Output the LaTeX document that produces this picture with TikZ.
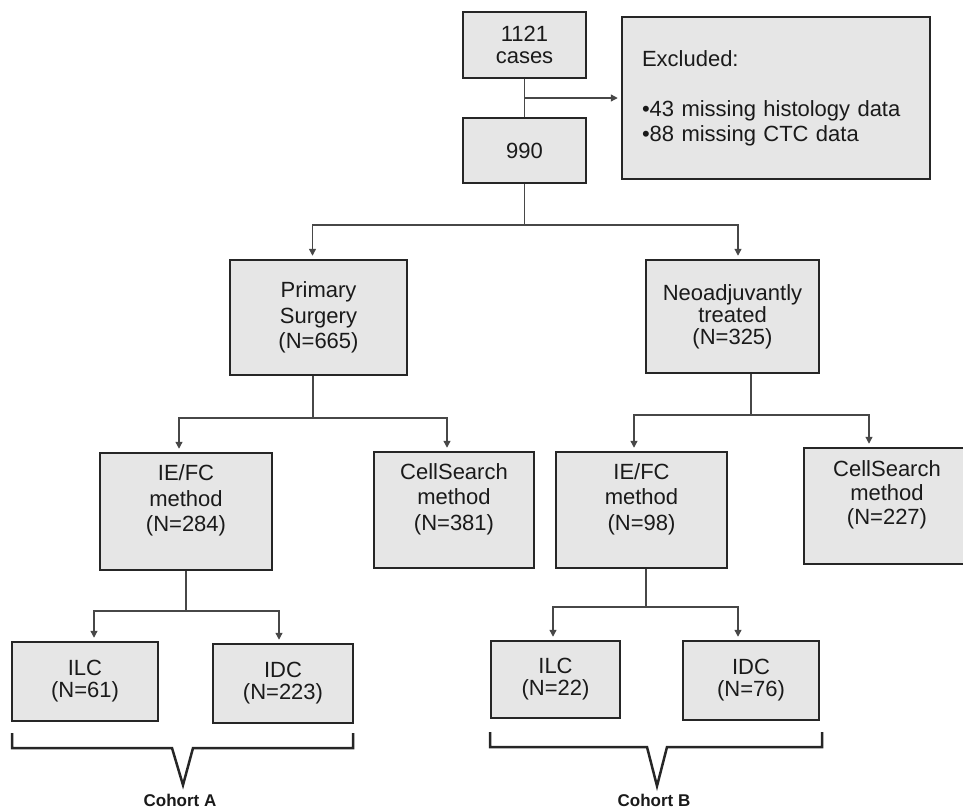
\documentclass[tikz,border=0pt]{standalone}
\usepackage{fontspec}
\setmainfont{Liberation Sans}
\usetikzlibrary{arrows.meta}
\definecolor{boxfill}{HTML}{E6E6E6}
\definecolor{boxline}{HTML}{262626}
\definecolor{linkc}{HTML}{474747}
\definecolor{txt}{HTML}{1A1A1A}
\begin{document}
\begin{tikzpicture}[x=1pt, y=-1pt, >={Triangle[width=7pt, length=7pt]}]
	\tikzstyle{box}=[draw=boxline, line width=2.5pt, fill=boxfill, text=txt, align=center, inner sep=2pt, font=\fontsize{22}{25.5}\selectfont]
	\tikzstyle{tight}=[font=\fontsize{22}{22}\selectfont]
	\tikzstyle{method}=[text depth=26pt]
	\tikzstyle{link}=[draw=linkc, line width=1.3pt]
	\tikzstyle{arr}=[link, ->, shorten >=3pt]
	\tikzstyle{brace}=[draw=boxline, line width=2.5pt]
	\tikzstyle{cohort}=[text=txt, anchor=base, inner sep=0pt, font=\fontsize{17}{20}\selectfont\bfseries]
	\useasboundingbox (0,0) rectangle (963,811);
	% boxes
	\node [box, tight, minimum width=123pt, minimum height=66pt] (cases) at (524.5, 45) {1121\\cases};
	\node [box, minimum width=308pt, minimum height=162pt, text width=268pt, align=left, font=\fontsize{22}{25}\selectfont] (excl) at (776, 98) {Excluded:\\[25pt]•43 missing histology data\\•88 missing CTC data};
	\node [box, minimum width=123pt, minimum height=65pt] (n990) at (524.5, 150.5) {990};
	\node [box, minimum width=177pt, minimum height=115pt] (prim) at (318.5, 317.5) {Primary\\Surgery\\(N=665)};
	\node [box, tight, minimum width=173pt, minimum height=113pt] (neo) at (732.5, 316.5) {Neoadjuvantly\\treated\\(N=325)};
	\node [box, method, minimum width=172pt, minimum height=117pt] (iefcA) at (186, 511.5) {IE/FC\\method\\(N=284)};
	\node [box, method, minimum width=160pt, minimum height=116pt] (csA) at (454, 510) {CellSearch\\method\\(N=381)};
	\node [box, method, minimum width=171pt, minimum height=116pt] (iefcB) at (641.5, 510) {IE/FC\\method\\(N=98)};
	\node [box, method, font=\fontsize{22}{24}\selectfont, minimum width=166pt, minimum height=116pt] (csB) at (887, 506) {CellSearch\\method\\(N=227)};
	\node [box, tight, minimum width=146pt, minimum height=79pt] (ilcA) at (85, 681.5) {ILC\\(N=61)};
	\node [box, tight, minimum width=140pt, minimum height=79pt] (idcA) at (283, 683.5) {IDC\\(N=223)};
	\node [box, tight, minimum width=129pt, minimum height=77pt] (ilcB) at (555.5, 679.5) {ILC\\(N=22)};
	\node [box, tight, minimum width=136pt, minimum height=79pt] (idcB) at (751, 680.5) {IDC\\(N=76)};
	% joints
	\coordinate (j1) at (524.5, 98);
	\coordinate (j2) at (524.5, 225);
	\coordinate (j3) at (313, 418);
	\coordinate (j4) at (751, 415);
	\coordinate (j5) at (186, 611);
	\coordinate (j6) at (646, 607);
	% connectors
	\draw [link] (cases) -- (n990);
	\draw [arr] (j1) -- (excl);
	\draw [link] (n990) -- (j2);
	\draw [arr] (j2) -| ([xshift=-6pt]prim.north);
	\draw [arr] (j2) -| ([xshift=5.5pt]neo.north);
	\draw [link] ([xshift=-5.5pt]prim.south) -- (j3);
	\draw [arr] (j3) -| ([xshift=-7pt]iefcA.north);
	\draw [arr] (j3) -| ([xshift=-7pt]csA.north);
	\draw [link] ([xshift=18.5pt]neo.south) -- (j4);
	\draw [arr] (j4) -| ([xshift=-7.5pt]iefcB.north);
	\draw [arr] (j4) -| ([xshift=-18pt]csB.north);
	\draw [link] (iefcA) -- (j5);
	\draw [arr] (j5) -| ([xshift=9pt]ilcA.north);
	\draw [arr] (j5) -| ([xshift=-4pt]idcA.north);
	\draw [link] ([xshift=4.5pt]iefcB.south) -- (j6);
	\draw [arr] (j6) -| ([xshift=-2.5pt]ilcB.north);
	\draw [arr] (j6) -| ([xshift=-13pt]idcB.north);
	% cohorts
	\draw [brace] (12, 733) -- (12, 748) -- (172, 748) -- (183, 785) -- (193, 748) -- (353, 748) -- (353, 733);
	\draw [brace] (490, 732) -- (490, 747) -- (647, 747) -- (657, 786) -- (667, 747) -- (822, 747) -- (822, 732);
	\node [cohort] (cohA) at (180, 806) {Cohort A};
	\node [cohort] (cohB) at (654, 806) {Cohort B};
\end{tikzpicture}
\end{document}
